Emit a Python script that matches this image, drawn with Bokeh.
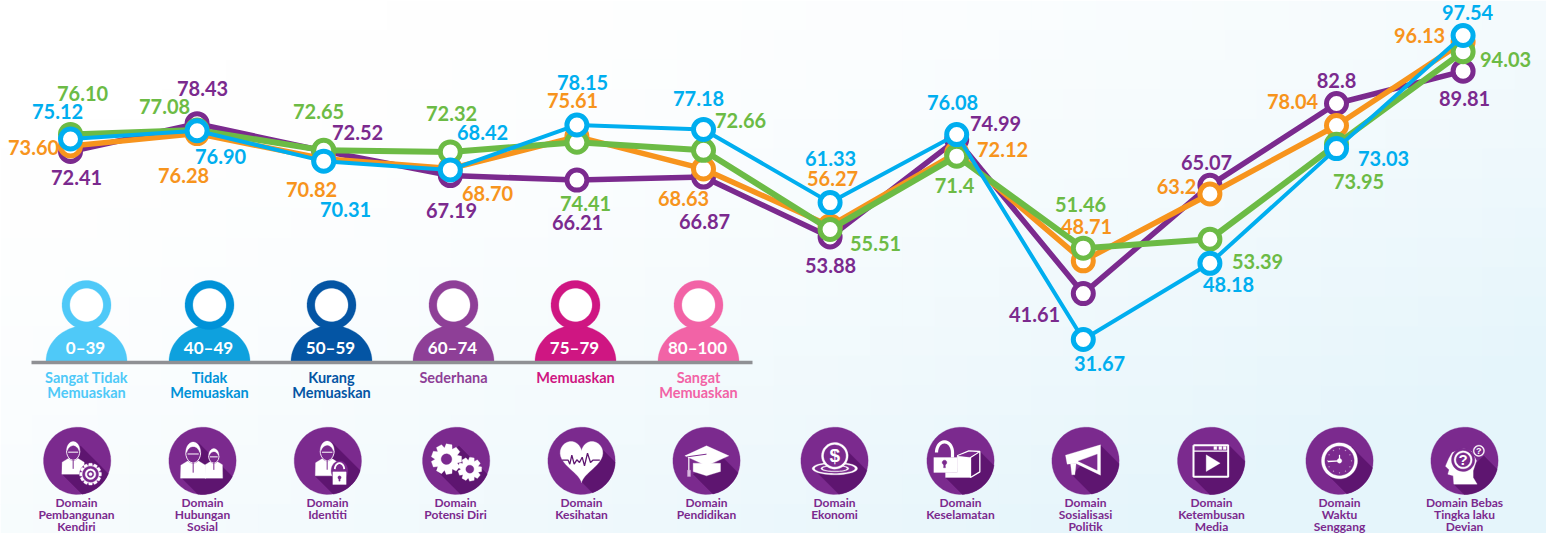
import numpy as np
from bokeh.plotting import figure
from bokeh.models import Range1d, ColumnDataSource
from bokeh.core.properties import value
from bokeh.embed import file_html
from bokeh.resources import INLINE

domains = ["Domain\nPembangunan\nKendiri", "Domain\nHubungan\nSosial", "Domain\nIdentiti", "Domain\nPotensi Diri",
           "Domain\nKesihatan", "Domain\nPendidikan", "Domain\nEkonomi", "Domain\nKeselamatan",
           "Domain\nSosialisasi\nPolitik", "Domain\nKetembusan\nMedia", "Domain\nWaktu\nSenggang",
           "Domain Bebas\nTingka laku\nDevian"]
purple_vals = [72.41, 78.43, 72.52, 67.19, 66.21, 66.87, 53.88, 74.99, 41.61, 65.07, 82.8, 89.81]
orange_vals = [73.60, 76.28, 70.82, 68.70, 75.61, 68.63, 56.27, 72.12, 48.71, 63.2, 78.04, 96.13]
green_vals = [76.10, 77.08, 72.65, 72.32, 74.41, 72.66, 55.51, 71.4, 51.46, 53.39, 73.95, 94.03]
blue_vals = [75.12, 76.90, 70.31, 68.42, 78.15, 77.18, 61.33, 76.08, 31.67, 48.18, 73.03, 97.54]
purple_txt = ["72.41", "78.43", "72.52", "67.19", "66.21", "66.87", "53.88", "74.99", "41.61", "65.07", "82.8", "89.81"]
orange_txt = ["73.60", "76.28", "70.82", "68.70", "75.61", "68.63", "56.27", "72.12", "48.71", "63.2", "78.04", "96.13"]
green_txt = ["76.10", "77.08", "72.65", "72.32", "74.41", "72.66", "55.51", "71.4", "51.46", "53.39", "73.95", "94.03"]
blue_txt = ["75.12", "76.90", "70.31", "68.42", "78.15", "77.18", "61.33", "76.08", "31.67", "48.18", "73.03", "97.54"]
band_ranges = ["0–39", "40–49", "50–59", "60–74", "75–79", "80–100"]
band_names = ["Sangat Tidak\nMemuaskan", "Tidak\nMemuaskan", "Kurang\nMemuaskan", "Sederhana", "Memuaskan", "Sangat\nMemuaskan"]

# ---- layout / style (page pixels) ----
PURPLE, ORANGE, GREEN, BLUE = "#7b2a8e", "#f7941d", "#6cbb45", "#00aeef"
DARK = "#5e1570"
purple_pos = [(76,177),(202,88),(357,132),(451,210),(577,222),(704,221),(830,265),(995,123),(1034,314),(1206,162),(1336,80),(1464,98)]
orange_pos = [(33,147),(183,175),(311,189),(487,193),(572,100),(683,198),(832,178),(1002,149),(1086,226),(1176,186),(1292,101),(1419,35)]
green_pos = [(82,93),(164,106),(318,111),(451,113),(585,203),(740,120),(875,243),(954,185),(1080,204),(1257,261),(1358,181),(1505,59)]
blue_pos = [(57,111),(220,156),(345,209),(482,132),(582,82),(698,98),(830,158),(952,102),(1099,363),(1228,284),(1383,158),(1467,12)]
band_x = [86, 209, 331, 453, 575, 698]
band_head = ["#4fc9f8", "#0092d8", "#0455a4", "#8e3f97", "#cf1682", "#f263a6"]
band_body = ["#4fc9f8", "#0ea1de", "#0455a4", "#8e3f97", "#cf1682", "#f263a6"]
icon_x = [76, 202, 327, 455, 581, 706, 834, 960, 1085, 1211, 1339, 1464]

W, H = 1546, 533
STEP, X0 = 126.6, 70
PXV, Y0 = 4.615, 35
x_rng = (-X0 / STEP, (W - X0) / STEP)
y_rng = (97.54 - (H - Y0) / PXV, 97.54 + Y0 / PXV)

p = figure(width=W, height=H, x_range=x_rng, y_range=y_rng, x_axis_type=None, y_axis_type=None,
           toolbar_location=None, output_backend="svg", min_border=0, outline_line_color=None)
p.grid.visible = False
p.extra_x_ranges = {"page": Range1d(0, W)}
p.extra_y_ranges = {"page": Range1d(H, 0)}
PG = dict(x_range_name="page", y_range_name="page")

# background wash: pale blue growing toward the lower right
gx = np.linspace(0, W, 49); gy = np.linspace(0, H, 19)
L_, R_, T_, B_, C_ = [], [], [], [], []
for i in range(48):
    for j in range(18):
        t = np.clip(0.75 * (gx[i] + 16) / W + 0.65 * (gy[j] + 15) / H - 0.2, 0, 1) ** 1.5
        if t <= 0:
            continue
        L_.append(gx[i]); R_.append(gx[i + 1] + 1); T_.append(gy[j]); B_.append(gy[j + 1] + 1)
        C_.append("#%02x%02x%02x" % (int(255 - t * 26), int(255 - t * 10), int(255 - t * 4)))
p.quad(left=L_, right=R_, top=T_, bottom=B_, fill_color=C_, line_color=None, **PG)

# ---- helpers for decoration ----
def P(pts, col):
    a = np.array(pts, float)
    p.patch(a[:, 0], a[:, 1], fill_color=col, line_color=col, line_width=0.3, **PG)
def ell(cx, cy, rx, ry, a0=0, a1=2 * np.pi, n=48):
    th = np.linspace(a0, a1, n)
    return list(zip(cx + rx * np.cos(th), cy + ry * np.sin(th)))
def T(x, y, s, col, size, font="Lato", style="bold"):
    p.text([x], [y], text=[s], text_color=col, text_font=value(font), text_font_size=f"{size}px",
           text_font_style=style, text_align="center", text_baseline="middle", **PG)

# ---- persons legend ----
for cx, h, bd, rg, nm in zip(band_x, band_head, band_body, band_ranges, band_names):
    P([(cx - 40.5, 361)] + ell(cx, 361, 40.5, 36, np.pi, 2 * np.pi) + [(cx + 40.5, 361)], bd)
    P(ell(cx, 304.5, 24.5, 24.5), h)
    P(ell(cx, 304.5, 16.5, 16.5), "#ffffff")
    T(cx - 1, 346.5, rg, "#ffffff", 17)
    for i, ln in enumerate(nm.split("\n")):
        T(cx, 376.5 + i * 15, ln, h, 14.5)
p.line([31, 752], [362, 362], line_color="#8f9094", line_width=3.5, **PG)

# ---- domain icons, drawn in 3x crop coordinates ----
class Z:
    ox = 0
def zp(pts):
    return [(Z.ox + x / 3, 422 + y / 3) for x, y in pts]
def ZP(pts, col=None):
    P(zp(pts), col or "#ffffff")
def ZE(cx, cy, rx, ry=None, col=None):
    P(zp(ell(cx, cy, rx, ry if ry else rx)), col or "#ffffff")
def ZL(pts, w=1.5, col=None):
    a = np.array(zp(pts))
    p.line(a[:, 0], a[:, 1], line_color=col or "#ffffff", line_width=w, **PG)
def disc(cx, a, b):
    """purple disc with a 45-degree long shadow between glyph points a and b"""
    cy, R = 115, 101
    ZE(cx, cy, R, R, PURPLE)
    def hit(pt):
        dx, dy = pt[0] - cx, pt[1] - cy
        s = dx + dy
        k = (-s + np.sqrt(s * s - 2 * (dx * dx + dy * dy - R * R))) / 2
        return (pt[0] + k, pt[1] + k)
    a2, b2 = hit(a), hit(b)
    t0 = np.arctan2(a2[1] - cy, a2[0] - cx)
    t1 = np.arctan2(b2[1] - cy, b2[0] - cx)
    ZP([a] + ell(cx, cy, R, R, t0, t1, 30) + [b], DARK)
def gear(cx, cy, R, n, hole=None):
    pts = []
    for i in range(n):
        c = 2 * np.pi * i / n
        w = np.pi / n
        for ang, rad in [(c - w, 0.74), (c - w * 0.55, 1), (c + w * 0.55, 1), (c + w, 0.74)]:
            pts.append((cx + R * rad * np.cos(ang), cy + R * rad * np.sin(ang)))
    ZP(pts)
def person(cx, hy, s, base):
    b = hy + 20 * s
    ZP([(cx - 34 * s, base), (cx - 33 * s, b + 14 * s), (cx - 10 * s, b), (cx + 10 * s, b), (cx + 33 * s, b + 14 * s), (cx + 34 * s, base)])
    ZE(cx, hy, 21 * s, 29 * s, PURPLE)
    P(zp(ell(cx, hy, 20 * s, 28 * s, np.pi, 2 * np.pi)), "#ffffff")
    ZE(cx, hy + 5 * s, 17 * s, 20 * s, PURPLE)
    ZL(ell(cx, hy, 20 * s, 28 * s, 0, np.pi, 12), 0.9)
    ZL([(cx - 15 * s, hy + 4 * s), (cx + 15 * s, hy + 4 * s)], 1)
    ZL([(cx, b + 6 * s), (cx, b + 34 * s)], 1, PURPLE)

# 1 pembangunan kendiri
Z.ox = 35
disc(125, (135, 70), (80, 155))
person(113, 85, 1, 155)
ZE(165, 155, 33, 33, PURPLE)
gear(165, 155, 33, 12)
ZE(165, 155, 24, 24, PURPLE); ZE(165, 155, 16, 16); ZE(165, 155, 10, 10, PURPLE); ZE(165, 155, 5, 5)
# 2 hubungan sosial
disc(501, (490, 62), (437, 165))
person(535, 100, 0.78, 167)
person(473, 90, 1.12, 167)
# 3 identiti
disc(877, (890, 60), (838, 160))
person(875, 85, 1.05, 160)
ZE(912, 145, 25, 30, PURPLE)
ZL(ell(912, 140, 14, 18, np.pi, 2 * np.pi, 20), 1.8)
ZP([(892, 148), (932, 148), (932, 186), (892, 186)])
ZE(912, 165, 5, 5, PURPLE)
ZP([(910, 165), (914, 165), (914, 176), (910, 176)], PURPLE)

# 4 potensi diri
Z.ox = 415
disc(122, (130, 70), (60, 140))
gear(93, 110, 46, 9); ZE(93, 110, 16, 16, PURPLE)
gear(163, 140, 36, 9); ZE(163, 140, 12, 12, PURPLE)
# 5 kesihatan
disc(498, (550, 70), (498, 178))
th = np.linspace(0, 2 * np.pi, 60)
ZP(list(zip(498 + 4.0 * 16 * np.sin(th) ** 3, 108 - 4.3 * (13 * np.cos(th) - 5 * np.cos(2 * th) - 2 * np.cos(3 * th) - np.cos(4 * th)))))
ZL([(440, 113), (458, 113), (463, 125), (469, 98), (476, 125), (484, 112), (492, 120), (500, 104), (507, 130), (516, 92), (525, 120), (532, 113), (553, 113)], 1.3, DARK)
# 6 pendidikan
disc(873, (925, 108), (833, 155))
ZP([(833, 122), (915, 122), (915, 147), (873, 160), (833, 147)])
ZP([(808, 100), (873, 70), (940, 100), (873, 130)])
ZL([(815, 103), (873, 95)], 1, PURPLE)
ZL([(820, 103), (820, 145)], 1.2)
ZP([(816, 143), (825, 143), (825, 162), (816, 162)], "#d9b8e0")

# 7 ekonomi
Z.ox = 795
disc(117, (150, 80), (50, 135))
ZE(118, 138, 68, 19); ZE(118, 138, 60, 14, PURPLE); ZE(118, 138, 42, 10); ZE(118, 138, 36, 7, PURPLE)
ZE(118, 100, 40, 40); ZE(118, 100, 33, 33, PURPLE)
T(795 + 118 / 3, 422 + 100 / 3, "$", "#ffffff", 19, "Liberation Sans")
# 8 keselamatan
disc(495, (553, 87), (450, 165))
ZL(ell(447, 90, 24, 32, np.pi, 2 * np.pi, 24) + [(471, 105)], 3.2)
ZP([(415, 105), (485, 105), (485, 150), (415, 150)])
ZE(447, 120, 7, 7, PURPLE); ZP([(445, 120), (449, 120), (450, 136), (444, 136)], PURPLE)
ZP([(485, 100), (525, 105), (525, 165), (450, 165), (450, 150), (485, 150)])
ZL([(485, 100), (520, 85), (553, 87), (553, 148), (525, 165), (525, 105), (553, 87)], 1.3)
ZP([(489, 100), (521, 89), (545, 90), (523, 102)], PURPLE)
# 9 sosialisasi politik
disc(870, (915, 68), (830, 157))
ZP([(810, 98), (915, 67), (915, 158), (840, 122), (815, 125)])
ZP([(848, 116), (905, 95), (905, 143)], PURPLE)
ZP([(825, 122), (842, 122), (838, 157), (829, 157)])

# 10 ketembusan media
Z.ox = 1170
disc(122, (175, 68), (67, 165))
ZP([(69, 68), (173, 68), (173, 163), (69, 163)], DARK)
ZP([(69, 68), (173, 68), (173, 86), (69, 86)], PURPLE)
ZL([(69, 68), (173, 68), (173, 163), (69, 163), (69, 68)], 2)
ZL([(69, 86), (173, 86)], 1.4)
for sx in (130, 145, 158):
    ZP([(sx, 72), (sx + 9, 72), (sx + 9, 81), (sx, 81)])
ZP([(107, 97), (149, 122), (107, 147)])
# 11 waktu senggang
disc(507, (545, 75), (470, 155))
ZE(507, 115, 54, 54); ZE(507, 115, 44, 44, PURPLE)
ZE(507, 115, 7, 7)
ZL([(507, 115), (507, 97)], 1.2); ZL([(507, 115), (472, 117)], 1.4)
for tk in range(12):
    a = tk * np.pi / 6
    ZE(507 + 36 * np.cos(a), 115 + 36 * np.sin(a), 1.6, 1.6, "#c9a8d2")
# 12 bebas tingkah laku
disc(882, (940, 100), (850, 185))
ZP([(825, 131), (835, 108), (845, 90), (880, 78), (905, 88), (918, 115), (908, 145), (908, 165), (920, 185), (850, 185), (848, 160), (832, 155), (836, 142)])
ZE(878, 112, 35, 35, PURPLE); ZE(878, 112, 27, 27); ZE(878, 112, 21, 21, PURPLE)
T(1170 + 878 / 3, 422 + 112 / 3, "?", "#ffffff", 15, "Liberation Sans")
ZE(925, 85, 20, 20, PURPLE); ZE(925, 85, 17, 17); ZE(925, 85, 13, 13, PURPLE)
T(1170 + 925 / 3, 422 + 85 / 3, "?", "#ffffff", 9, "Liberation Sans")

for cx, nm in zip(icon_x, domains):
    for i, ln in enumerate(nm.split("\n")):
        T(cx, 502 + i * 12, ln, PURPLE, 12)

# ---- the four series ----
idx = list(range(12))
series = [(purple_vals, purple_txt, purple_pos, PURPLE, 5.5),
          (orange_vals, orange_txt, orange_pos, ORANGE, 5.5),
          (green_vals, green_txt, green_pos, GREEN, 6),
          (blue_vals, blue_txt, blue_pos, BLUE, 4)]
for vals, txt, pos, col, lw in series:
    p.line(idx, vals, line_color=col, line_width=lw, line_join="round")
    p.scatter(idx, vals, size=20, fill_color="#ffffff", line_color=col, line_width=5)
for vals, txt, pos, col, lw in series:
    src = ColumnDataSource(dict(x=[q[0] for q in pos], y=[q[1] for q in pos], t=txt))
    p.text("x", "y", text="t", source=src, text_color=col, text_font=value("Lato"), text_font_size="20px",
           text_font_style="bold", text_align="center", text_baseline="middle", **PG)

open("out.html", "w").write(file_html(p, INLINE))
